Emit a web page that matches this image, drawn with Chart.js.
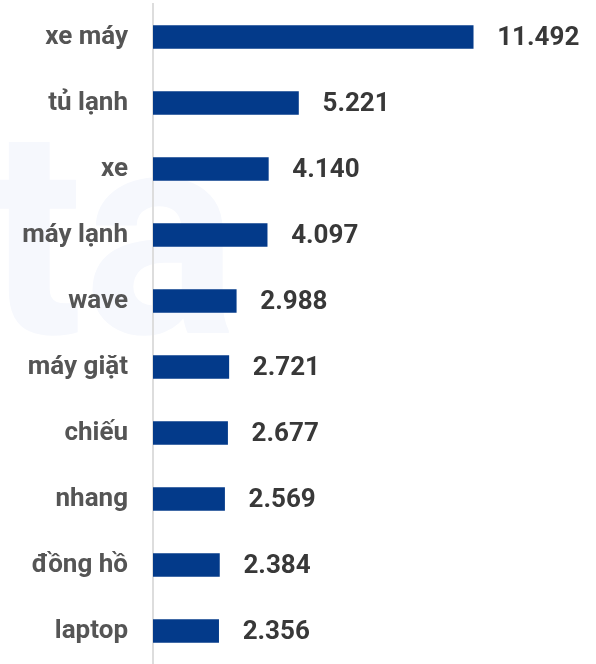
<!DOCTYPE html>
<html>
<head>
<meta charset="utf-8">
<script src="https://cdn.jsdelivr.net/npm/chart.js@4/dist/chart.umd.min.js"></script>
<style>
  html, body { margin: 0; padding: 0; background: #fff; }
  #wrap { width: 596px; height: 664px; position: relative; }
</style>
</head>
<body>
<div id="wrap"><canvas id="barChart"></canvas></div>
<script>
const labels = ["xe máy", "tủ lạnh", "xe", "máy lạnh", "wave", "máy giặt", "chiếu", "nhang", "đồng hồ", "laptop"];
const values = [11492, 5221, 4140, 4097, 2988, 2721, 2677, 2569, 2384, 2356];

const fmt = v => String(v).replace(/\B(?=(\d{3})+(?!\d))/g, ".");

// faint watermark behind the chart
const watermark = {
  id: 'watermark',
  beforeDraw(chart) {
    const ctx = chart.ctx;
    ctx.save();
    ctx.fillStyle = '#f6f8fd';
    ctx.font = 'bold 290px Roboto';
    ctx.textBaseline = 'alphabetic';
    ctx.fillText('ta', -15, 333);
    ctx.restore();
  }
};

const valueLabels = {
  id: 'valueLabels',
  afterDatasetsDraw(chart) {
    const ctx = chart.ctx;
    const meta = chart.getDatasetMeta(0);
    ctx.save();
    ctx.font = 'bold 26px Roboto';
    ctx.fillStyle = '#383838';
    ctx.textBaseline = 'middle';
    meta.data.forEach((bar, i) => {
      ctx.fillText(fmt(values[i]), bar.x + 24, bar.y + 1);
    });
    ctx.restore();
  }
};

const ctx = document.getElementById('barChart');
new Chart(ctx, {
  type: 'bar',
  data: {
    labels: labels,
    datasets: [{
      data: values,
      backgroundColor: '#033a8a',
      borderWidth: 0,
      barThickness: 23
    }]
  },
  options: {
    indexAxis: 'y',
    responsive: true,
    maintainAspectRatio: false,
    animation: false,
    layout: { padding: { top: 4, right: 0, bottom: -3, left: 0 } },
    plugins: {
      legend: { display: false },
      tooltip: { enabled: false }
    },
    scales: {
      x: {
        display: false,
        min: 0,
        max: 15900
      },
      y: {
        afterFit(scale) {
          scale.width = 153;
          scale.paddingTop = 0;
          scale.paddingBottom = 0;
        },
        grid: { display: false, drawTicks: false },
        border: { display: true, color: '#dddddd', width: 2 },
        ticks: {
          padding: 25,
          color: '#555555',
          font: { family: 'Roboto', size: 26, weight: 'bold' }
        }
      }
    }
  },
  plugins: [watermark, valueLabels]
});
</script>
</body>
</html>
